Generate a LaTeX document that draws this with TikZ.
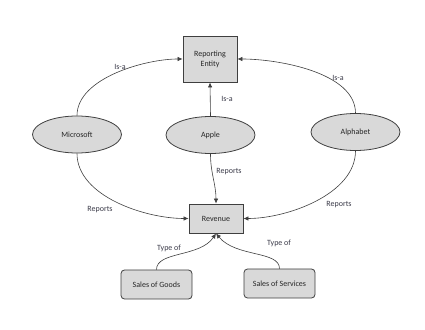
\documentclass[tikz,border=0pt]{standalone}
\usepackage{fontspec}
\setmainfont{Carlito}
\usetikzlibrary{arrows.meta,shapes.geometric}
\definecolor{fillg}{HTML}{D9D9D9}
\definecolor{edgec}{HTML}{3F3F3F}
\definecolor{txtc}{HTML}{262626}
\definecolor{lblc}{HTML}{3A3A48}
\begin{document}
\begin{tikzpicture}[x=1pt,y=1pt,
  every node/.style={font=\fontsize{8}{10}\selectfont, text=txtc},
  sqbox/.style={draw=edgec, fill=fillg, line width=0.9pt, inner sep=0pt, align=center},
  ell/.style={ellipse, draw=edgec, fill=fillg, line width=0.8pt, minimum width=89pt, minimum height=37pt, inner sep=0pt},
  rbox/.style={draw=edgec, fill=fillg, line width=0.8pt, rounded corners=3.5pt, minimum width=71pt, minimum height=29pt, inner sep=0pt},
  conn/.style={draw=edgec, line width=0.6pt, -{Latex[length=5pt,width=4.5pt]}},
  lbl/.style={text=lblc}]
\useasboundingbox (0,0) rectangle (425,329);
% nodes
\node[sqbox, minimum width=54pt, minimum height=46pt] (re) at (210,270) {Reporting\\Entity};
\node[ell] (ms) at (77,194.5) {Microsoft};
\node[ell] (ap) at (210.5,194) {Apple};
\node[ell] (al) at (355.5,197) {Alphabet};
\node[sqbox, minimum width=54pt, minimum height=29pt] (rev) at (216,110.5) {Revenue};
\node[rbox] (sg) at (156.5,44.5) {Sales of Goods};
\node[rbox] (ss) at (279.5,45.5) {Sales of Services};
% connectors
\draw[conn] (ms.north) to[out=90,in=180,looseness=0.8] (re.west);
\draw[conn] (al.north) to[out=90,in=0,looseness=0.8] (re.east);
\draw[conn] (ap.north) -- (re.south);
\draw[conn] (ms.south) to[out=-90,in=180,looseness=0.85] (rev.west);
\draw[conn] (al.south) to[out=-90,in=0,looseness=0.85] (rev.east);
\draw[conn] (ap.south) to[out=-90,in=90] (rev.north);
\draw[conn] (sg.north) .. controls +(0,18.5) and +(-16,-24) .. (rev.south);
\draw[conn] (ss.north) .. controls +(0,18) and +(20,-24) .. (rev.south);
% labels
\node[lbl] (l1) at (120,262) {Is-a};
\node[lbl] (l2) at (227,230) {Is-a};
\node[lbl] (l3) at (338,251) {Is-a};
\node[lbl] (l4) at (100,119) {Reports};
\node[lbl] (l5) at (229,157) {Reports};
\node[lbl] (l6) at (339,124) {Reports};
\node[lbl] (l7) at (169,81) {Type of};
\node[lbl] (l8) at (279,86) {Type of};
\end{tikzpicture}
\end{document}
